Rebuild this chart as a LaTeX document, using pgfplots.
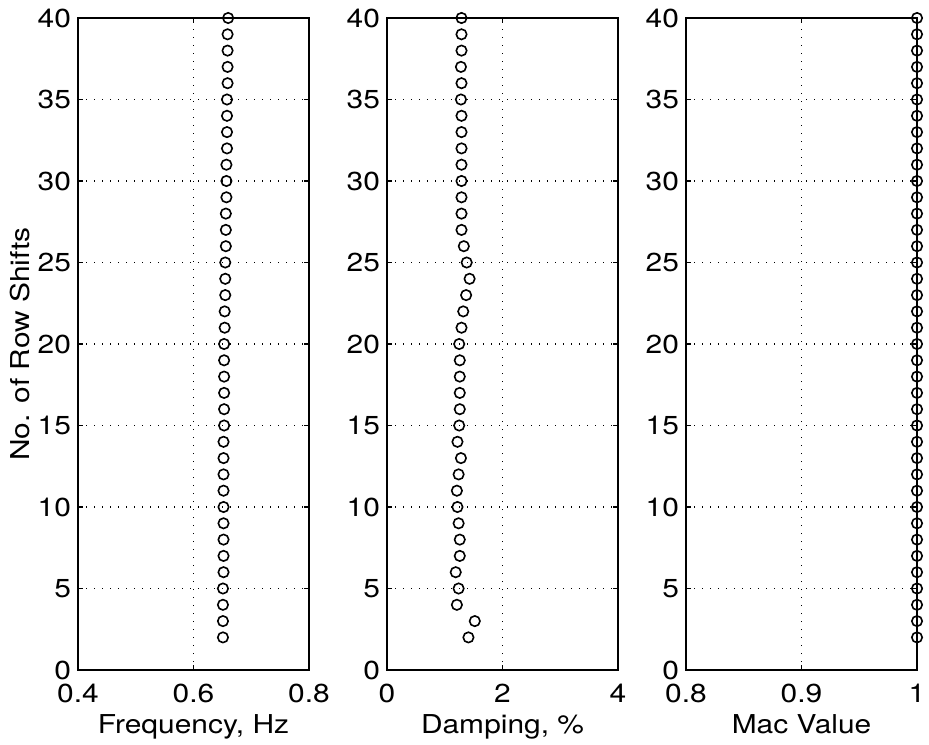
\documentclass[border=0pt]{standalone}
\usepackage{fontspec}
\setmainfont{TeX Gyre Heros}[FakeStretch=1.15]
\usepackage{pgfplots}
\usepackage{pgfplotstable}
\pgfplotsset{compat=1.18}

% row shift, frequency (Hz)
\pgfplotstableread{
n  f
2  0.651
3  0.651
4  0.651
5  0.651
6  0.652
7  0.652
8  0.652
9  0.652
10 0.652
11 0.652
12 0.652
13 0.652
14 0.652
15 0.653
16 0.653
17 0.653
18 0.653
19 0.653
20 0.653
21 0.654
22 0.654
23 0.655
24 0.655
25 0.655
26 0.656
27 0.656
28 0.656
29 0.657
30 0.657
31 0.657
32 0.658
33 0.658
34 0.658
35 0.658
36 0.659
37 0.659
38 0.659
39 0.659
40 0.660
}\freqdata

% row shift, damping (%)
\pgfplotstableread{
n  d
2  1.41
3  1.52
4  1.21
5  1.24
6  1.19
7  1.26
8  1.26
9  1.24
10 1.22
11 1.21
12 1.24
13 1.28
14 1.22
15 1.25
16 1.26
17 1.26
18 1.26
19 1.26
20 1.25
21 1.29
22 1.32
23 1.37
24 1.43
25 1.38
26 1.33
27 1.29
28 1.29
29 1.29
30 1.29
31 1.29
32 1.29
33 1.29
34 1.29
35 1.28
36 1.29
37 1.28
38 1.29
39 1.29
40 1.29
}\dampdata

% row shift, MAC value
\pgfplotstableread{
n  m
2  1
3  1
4  1
5  1
6  1
7  1
8  1
9  1
10 1
11 1
12 1
13 1
14 1
15 1
16 1
17 1
18 1
19 1
20 1
21 1
22 1
23 1
24 1
25 1
26 1
27 1
28 1
29 1
30 1
31 1
32 1
33 1
34 1
35 1
36 1
37 1
38 1
39 1
40 1
}\macdata

\pgfplotsset{
  panel/.style={
    scale only axis,
    width=115.5pt, height=326pt,
    anchor=south west,
    ymin=0, ymax=40,
    ytick={0,5,...,40},
    axis line style={line width=0.9pt},
    tick align=inside,
    major tick length=2.5pt,
    tick style={black, line width=0.6pt},
    grid=major,
    major grid style={black, line width=0.7pt, dash pattern=on 0.7pt off 3.3pt},
    tick label style={font=\fontsize{13}{15}\selectfont},
    label style={font=\fontsize{13}{15}\selectfont},
    /pgf/number format/assume math mode=true,
    /pgf/number format/fixed,
    xticklabel style={yshift=-3.5pt},
    xlabel style={yshift=1pt},
    clip=false,
  },
  circ/.style={only marks, mark=o, mark size=2.6pt,
    mark options={black, line width=0.8pt}},
}

\begin{document}
\begin{tikzpicture}
\useasboundingbox (0,0) rectangle (464.5pt,372pt);

\begin{axis}[panel, at={(39pt,37pt)},
  xmin=0.4, xmax=0.8, xtick={0.4,0.6,0.8},
  xlabel={Frequency, Hz}, ylabel={No. of Row Shifts},
  ylabel style={yshift=-3pt}]
  \addplot[circ] table[x=f, y=n] {\freqdata};
\end{axis}

\begin{axis}[panel, at={(193.5pt,37pt)},
  xmin=0, xmax=4, xtick={0,2,4},
  xlabel={Damping, \%}]
  \addplot[circ] table[x=d, y=n] {\dampdata};
\end{axis}

\begin{axis}[panel, at={(343pt,37pt)},
  xmin=0.8, xmax=1, xtick={0.8,0.9,1},
  xticklabels={0.8,0.9,1},
  xlabel={Mac Value}]
  \addplot[circ] table[x=m, y=n] {\macdata};
\end{axis}

\end{tikzpicture}
\end{document}
